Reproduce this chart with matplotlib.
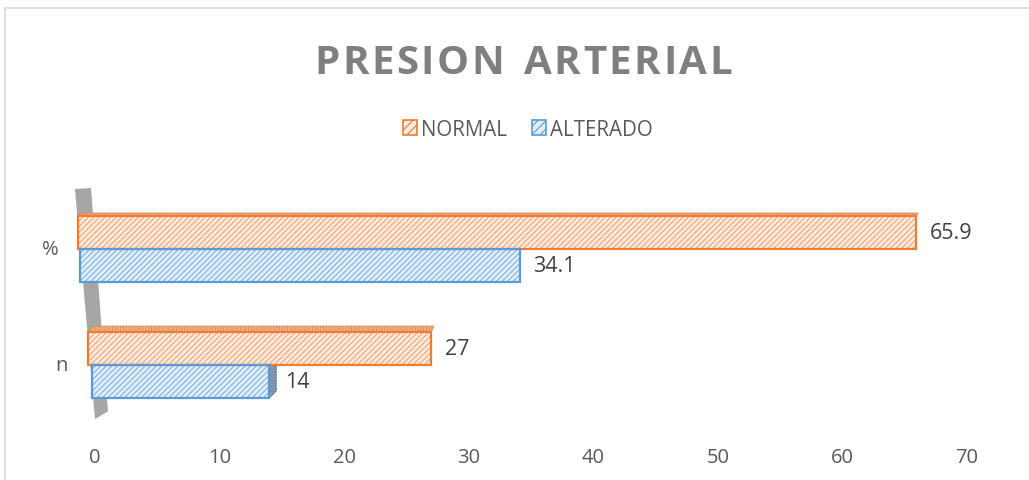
import matplotlib.pyplot as plt
from matplotlib.patches import Polygon, Rectangle

plt.rcParams['font.family'] = ['Open Sans', 'DejaVu Sans']
plt.rcParams['hatch.linewidth'] = 0.8

# data
categories = ['n', '%']
normal = [27, 65.9]
alterado = [14, 34.1]
series_names = ['NORMAL', 'ALTERADO']
xticks = [0, 10, 20, 30, 40, 50, 60, 70]
title = 'PRESION ARTERIAL'

# look
orange_edge = '#ED7D31'
orange_hatch = '#F2A675'
orange_fill = '#FDEADF'
blue_edge = '#5B9BD5'
blue_hatch = '#7FB0E0'
blue_fill = '#E2EFFA'
txt = '#595959'

W, H = 1029, 481
fig = plt.figure(figsize=(W / 100, H / 100), dpi=100)

# plot area: x 0 -> px 95, 70 -> px 967 ; y 0 -> px 366, 1 -> px 250
ax = fig.add_axes([95 / W, (H - 430) / H, (967 - 95) / W, 240 / H])
ax.set_xlim(0, 70)
ax.set_ylim(-0.552, 1.517)

bh = 0.285
# bars start at the tilted back wall (3d look)
start_normal = [-0.56, -1.36]
start_alt = [-0.24, -1.2]
label_x = [-2.7, -3.6]
top_depth = [0.05, 0.025]   # visible top face of the front bars
side_depth = [0.55, 0.0]    # visible end face of the lower bars


def hatched_bar(y, val, left, fill, hcol, ecol):
    ax.barh(y, val - left, left=left, height=bh, facecolor=fill, edgecolor=hcol,
            hatch='//////', linewidth=0, clip_on=False, zorder=3)
    ax.barh(y, val - left, left=left, height=bh, facecolor='none', edgecolor=ecol,
            linewidth=1.6, clip_on=False, zorder=4)


pos = list(range(len(categories)))
for i in pos:
    top = i + bh
    d = top_depth[i]
    ax.add_patch(Polygon([(start_normal[i], top), (normal[i], top), (normal[i] + 0.2, top + d),
                          (start_normal[i] + 0.4, top + d)], closed=True,
                         facecolor='#F1B58E', edgecolor='#D98A58', hatch='||||||',
                         linewidth=0.6, clip_on=False, zorder=2))
    if side_depth[i] > 0:
        s = side_depth[i]
        ax.add_patch(Polygon([(alterado[i], i - bh), (alterado[i], i), (alterado[i] + s, i + 0.03),
                              (alterado[i] + s, i - bh + 0.06)], closed=True,
                             facecolor='#8C9DAE', edgecolor='#5B7FA6', hatch='......',
                             linewidth=0.6, clip_on=False, zorder=2))
    hatched_bar(i + bh / 2, normal[i], start_normal[i], orange_fill, orange_hatch, orange_edge)
    hatched_bar(i - bh / 2, alterado[i], start_alt[i], blue_fill, blue_hatch, blue_edge)
    ax.text(normal[i] + 1.1, i + bh / 2, f'{normal[i]:g}', va='center', ha='left',
            fontsize=15.5, color='#404040')
    ax.text(alterado[i] + 1.1 + side_depth[i] * 0.3, i - bh / 2, f'{alterado[i]:g}', va='center',
            ha='left', fontsize=15.5, color='#404040')
    ax.text(label_x[i], i, categories[i], va='center', ha='center', fontsize=14.5,
            color=txt, clip_on=False)

# gray back wall
wall = Polygon([(-1.61, 1.517), (-0.32, 1.526), (1.04, -0.40), (0.0, -0.466)],
               closed=True, facecolor='#A6A6A6', edgecolor='none', clip_on=False, zorder=1)
ax.add_patch(wall)

ax.set_yticks([])
ax.set_xticks(xticks)
ax.set_xticklabels([str(t) for t in xticks], fontsize=14.5, color=txt)
ax.tick_params(axis='both', length=0)
ax.tick_params(axis='x', pad=13)
for s in ax.spines.values():
    s.set_visible(False)

# title with letter spacing, drawn char by char
renderer = fig.canvas.get_renderer()
tkw = dict(fontsize=29, fontweight='bold', color='#7F7F7F', va='baseline', ha='left')
track = 2.5
widths = []
for ch in title:
    t = fig.text(0, 0, ch if ch != ' ' else 'n', **tkw)
    widths.append(t.get_window_extent(renderer).width * (0.55 if ch == ' ' else 1))
    t.remove()
total = sum(widths) + track * (len(title) - 1)
x = 523 - total / 2
for ch, w in zip(title, widths):
    if ch != ' ':
        fig.text(x / W, 1 - 74 / H, ch, **tkw)
    x += w + track

h1 = Rectangle((0, 0), 1, 1, facecolor=orange_fill, edgecolor=orange_edge, hatch='////', linewidth=1.2)
h2 = Rectangle((0, 0), 1, 1, facecolor=blue_fill, edgecolor=blue_edge, hatch='////', linewidth=1.2)
fig.legend([h1, h2], series_names, loc='center', bbox_to_anchor=(528 / W, 1 - 130 / H),
           ncol=2, frameon=False, fontsize=14.8, labelcolor=txt, handlelength=0.7,
           handleheight=0.7, handletextpad=0.2, columnspacing=1.2)

fig.patches.append(Rectangle((5 / W, -0.01), 1.1, (H - 9) / H + 0.01, transform=fig.transFigure,
                             fill=False, edgecolor='#D9D9D9', linewidth=1.2))

fig.savefig('out.png', dpi=100)
